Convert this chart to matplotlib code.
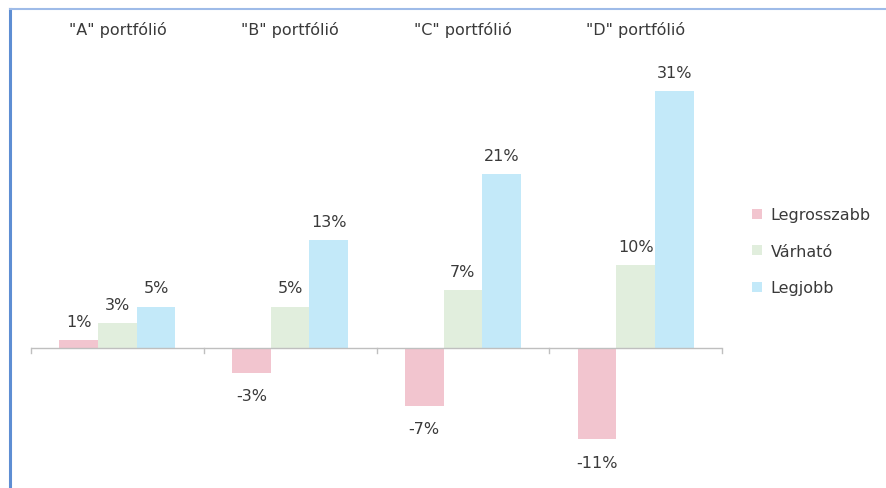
from matplotlib import pyplot as plt
from matplotlib.lines import Line2D
from matplotlib import transforms
import numpy as np

plt.rcParams['font.family'] = ['DejaVu Sans']

# Data
portfolios = ['"A" portfólió', '"B" portfólió', '"C" portfólió', '"D" portfólió']
series_names = ['Legrosszabb', 'Várható', 'Legjobb']
worst = [1, -3, -7, -11]
expected = [3, 5, 7, 10]
best = [5, 13, 21, 31]

colors = ['#F2C5CF', '#E1EEDD', '#C3E9F9']
text_color = '#3a3a3a'
fs = 11.5

W, H = 886, 489
fig = plt.figure(figsize=(W / 100, H / 100), dpi=100)

# plot area in pixel terms: categories span x 31..722, zero line at y 349
ax_left, ax_right = 31, 722
ax_top, ax_bottom = 20, 470
ax = fig.add_axes([ax_left / W, 1 - ax_bottom / H,
                   (ax_right - ax_left) / W, (ax_bottom - ax_top) / H])

px_per_pct = 8.3
zero_px = 349
ax.set_ylim(-(ax_bottom - zero_px) / px_per_pct, (zero_px - ax_top) / px_per_pct)
ax.set_xlim(-0.5, len(portfolios) - 0.5)

x = np.arange(len(portfolios))
width = 0.224
for i, (vals, col) in enumerate(zip([worst, expected, best], colors)):
    pos = x + (i - 1) * width
    ax.bar(pos, vals, width=width, color=col, label=series_names[i])
    for xp, v in zip(pos, vals):
        if v >= 0:
            ax.annotate(f'{v}%', (xp, v), xytext=(0, 8), textcoords='offset points',
                        ha='center', va='bottom', fontsize=fs, color=text_color)
        else:
            ax.annotate(f'{v}%', (xp, v), xytext=(0, -11), textcoords='offset points',
                        ha='center', va='top', fontsize=fs, color=text_color)

# axis line with category separators
ax.axhline(0, color='#BFBFBF', lw=1)
for b in np.arange(-0.5, len(portfolios), 1):
    ax.plot([b, b], [0, -0.6], color='#BFBFBF', lw=1, clip_on=False)

for s in ax.spines.values():
    s.set_visible(False)
ax.set_xticks([])
ax.set_yticks([])

# category titles along the top
title_tf = transforms.blended_transform_factory(ax.transData, fig.transFigure)
for xp, name in zip(x, portfolios):
    ax.text(xp, 1 - 30 / H, name, transform=title_tf,
            ha='center', va='center', fontsize=fs, color=text_color)

leg = fig.legend(loc='upper left', bbox_to_anchor=(738 / W, 1 - 194 / H),
                 frameon=False, fontsize=fs, handlelength=0.6, handleheight=0.6,
                 labelspacing=1.35, handletextpad=0.55)
for t in leg.get_texts():
    t.set_color(text_color)

# blue frame lines on the left and top
fig.add_artist(Line2D([10 / W, 10 / W], [0, 1 - 10 / H], color='#5E8ED3', lw=2.2))
fig.add_artist(Line2D([10 / W, 1], [1 - 10 / H, 1 - 10 / H], color='#9EBBE8', lw=1.5))

fig.savefig('out.png', dpi=100)
